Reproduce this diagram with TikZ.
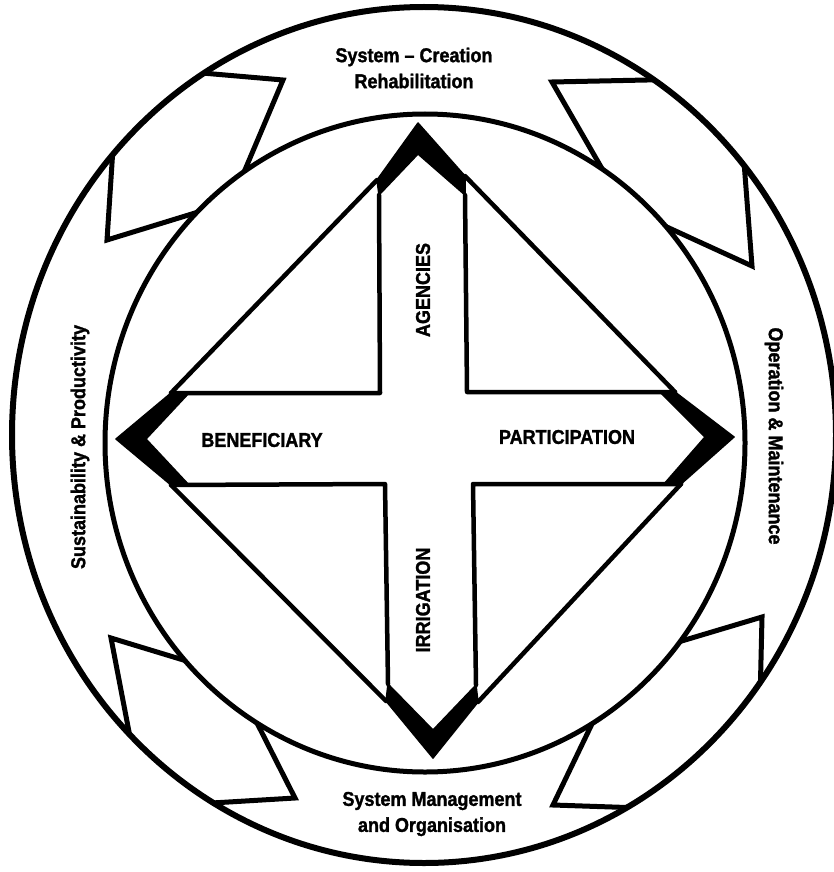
\documentclass[tikz,border=0pt]{standalone}
\usepackage{fontspec}
\usetikzlibrary{calc}
\newfontfamily\labfont{Liberation Sans Bold}[FakeStretch=0.9, FakeBold=1.4]
\begin{document}
\begin{tikzpicture}[x=1pt,y=-1pt,
  ring/.style={line width=6pt},
  fin/.style={line width=5pt, line join=miter},
  edge/.style={line width=4.5pt, line cap=round, line join=round},
  chev/.style={fill=black, draw=black, line width=1.5pt, line join=round},
  lab/.style={font=\labfont\fontsize{20}{26}\selectfont, align=center, inner sep=0pt}]
\fill[white] (0,0) rectangle (834,872);
\useasboundingbox (0,0) rectangle (834,872);
% circles
\coordinate (oc) at (424,435);
\coordinate (ic) at (425,443);
% fins in the ring (clipped to the ring)
\begin{scope}
\clip (oc) ellipse [x radius=412pt, y radius=428pt];
\foreach \p/\t/\q in {{202,73}/{283,80}/{250,158},
                      {113,148}/{107,240}/{182,217},
                      {647,80}/{552,82}/{597,160},
                      {745,175}/{752,266}/{669,228},
                      {130,737}/{111,638}/{190,662},
                      {212,803}/{295,798}/{257,723},
                      {760,702}/{762,617}/{685,640},
                      {590,728}/{553,805}/{642,808}}{
  \draw[fin] ($(\t)!1.3!(\p)$) -- (\t) -- ($(\t)!1.3!(\q)$);
}
\end{scope}
\fill[white] (ic) ellipse [x radius=320pt, y radius=329pt];
\draw[ring] (oc) ellipse [x radius=412pt, y radius=428pt];
\draw[line width=5pt] (ic) ellipse [x radius=320pt, y radius=329pt];
% chevrons
\coordinate (tOL) at (377,180); \coordinate (tA) at (418,123); \coordinate (tOR) at (465,176);
\coordinate (tIR) at (465,195); \coordinate (tIA) at (418,154); \coordinate (tIL) at (379,195);
\coordinate (lOT) at (171,393); \coordinate (lA) at (116,439); \coordinate (lOB) at (171,485);
\coordinate (lIB) at (189,485); \coordinate (lIA) at (146,439); \coordinate (lIT) at (189,393);
\coordinate (rOT) at (675,392); \coordinate (rA) at (734,437); \coordinate (rOB) at (681,484);
\coordinate (rIB) at (664,484); \coordinate (rIA) at (705,437); \coordinate (rIT) at (660,392);
\coordinate (bOL) at (386,701); \coordinate (bA) at (433,758); \coordinate (bOR) at (478,702);
\coordinate (bIR) at (476,685); \coordinate (bIA) at (433,730); \coordinate (bIL) at (388,684);
\filldraw[chev] (tOL) -- (tA) -- (tOR) -- (tIR) -- (tIA) -- (tIL) -- cycle;
\filldraw[chev] (lOT) -- (lA) -- (lOB) -- (lIB) -- (lIA) -- (lIT) -- cycle;
\filldraw[chev] (rOT) -- (rA) -- (rOB) -- (rIB) -- (rIA) -- (rIT) -- cycle;
\filldraw[chev] (bOL) -- (bA) -- (bOR) -- (bIR) -- (bIA) -- (bIL) -- cycle;
% cross corners
\coordinate (cTL) at (380,393); \coordinate (cTR) at (467,392);
\coordinate (cBL) at (385,484); \coordinate (cBR) at (473,484);
% cross lines
\draw[edge] (tIL) -- (cTL) -- (lOT);
\draw[edge] (tIR) -- (cTR) -- (rOT);
\draw[edge] (bIL) -- (cBL) -- (lOB);
\draw[edge] (bIR) -- (cBR) -- (rOB);
% diamond edges
\draw[edge] (tOL) -- (lOT);
\draw[edge] (tOR) -- (rOT);
\draw[edge] (lOB) -- (bOL);
\draw[edge] (rOB) -- (bOR);
% labels
\node[lab] (top) at (414,68) {System – Creation\\Rehabilitation};
\node[lab] (bot) at (432,814) {System Management\\and Organisation};
\node[lab, rotate=90] (left) at (80,447) {Sustainability \& Productivity};
\node[lab, rotate=-90] (right) at (774,436) {Operation \& Maintenance};
\node[lab] (ben) at (262,440) {BENEFICIARY};
\node[lab] (par) at (567,437) {PARTICIPATION};
\node[lab, rotate=90] (age) at (423,290) {AGENCIES};
\node[lab, rotate=90] (irr) at (423,600) {IRRIGATION};
\end{tikzpicture}
\end{document}
